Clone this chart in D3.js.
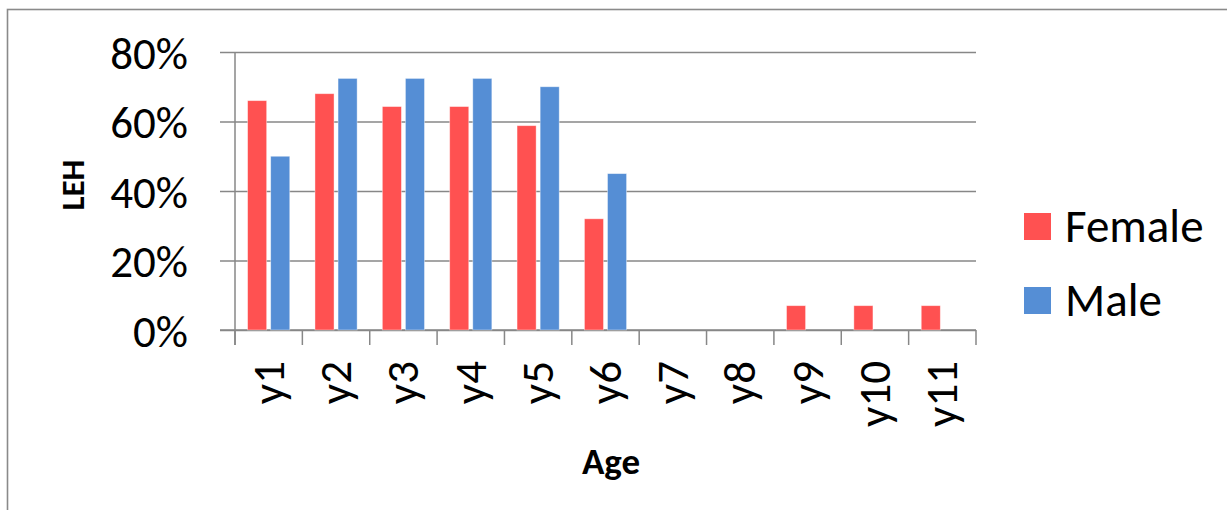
<!DOCTYPE html>
<html>
<head>
<meta charset="utf-8">
<script src="https://cdn.jsdelivr.net/npm/d3@7"></script>
<style>
  html, body { margin: 0; padding: 0; background: #fff; }
  svg { display: block; }
  text { font-family: Carlito, Lato, "Open Sans", sans-serif; fill: #000; }
</style>
</head>
<body>
<svg id="chart" width="1227" height="510"></svg>
<script>
const categories = ["y1","y2","y3","y4","y5","y6","y7","y8","y9","y10","y11"];
const seriesNames = ["Female","Male"];
const femaleValues = [0.66, 0.68, 0.643, 0.643, 0.588, 0.32, 0, 0, 0.07, 0.07, 0.07];
const maleValues   = [0.50, 0.724, 0.724, 0.724, 0.70, 0.45, 0, 0, 0, 0, 0];
const yTicks = [0, 0.2, 0.4, 0.6, 0.8];
const colors = ["#FF5151", "#558ED5"];
const axisTitleX = "Age";
const axisTitleY = "LEH";

const svg = d3.select("#chart");
const gridColor = "#878787";

// outer border
svg.append("rect").attr("x", 7.5).attr("y", 9.5).attr("width", 1300).attr("height", 600)
  .attr("fill", "none").attr("stroke", "#8a8a8a").attr("stroke-width", 1.6);

const plot = { left: 235, right: 976, top: 52, bottom: 330 };

const x = d3.scaleBand().domain(categories).range([plot.left, plot.right]).padding(0);
const step = x.bandwidth();
const xs = d3.scaleBand().domain(seriesNames).range([12.6, step - 12.6]).paddingInner(4/23).paddingOuter(0);
const y = d3.scaleLinear().domain([0, 0.8]).range([plot.bottom, plot.top]);

// gridlines + y tick marks
const gyA = svg.append("g").attr("transform", `translate(${plot.right},0)`)
  .call(d3.axisLeft(y).tickValues(yTicks).tickSize(plot.right - plot.left + 15).tickFormat(""));
gyA.select(".domain").remove();
gyA.selectAll("line").attr("stroke", gridColor).attr("stroke-width", 1.5);

// y labels
const gyL = svg.append("g").attr("transform", `translate(${plot.left - 15},0)`)
  .call(d3.axisLeft(y).tickValues(yTicks).tickSize(0).tickPadding(32).tickFormat(d3.format(".0%")));
gyL.select(".domain").remove();
gyL.selectAll("text").attr("font-size", 45).attr("font-family", "Carlito, Lato, sans-serif").attr("dy", "0.36em").attr("fill", "#000");

// y axis line
svg.append("line").attr("x1", plot.left).attr("x2", plot.left).attr("y1", plot.top).attr("y2", plot.bottom + 15)
  .attr("stroke", gridColor).attr("stroke-width", 1.5);

// x axis line and ticks
svg.append("line").attr("x1", plot.left - 15).attr("x2", plot.right).attr("y1", plot.bottom).attr("y2", plot.bottom)
  .attr("stroke", gridColor).attr("stroke-width", 1.5);
const boundaries = categories.map(c => x(c)).concat([x(categories[categories.length-1]) + step]);
svg.append("g").selectAll("line").data(boundaries).join("line")
  .attr("x1", d => d).attr("x2", d => d).attr("y1", plot.bottom).attr("y2", plot.bottom + 15)
  .attr("stroke", gridColor).attr("stroke-width", 1.5);

// bars
const data = [femaleValues, maleValues];
seriesNames.forEach((s, si) => {
  svg.append("g").selectAll("rect").data(categories.map((c, i) => ({c, v: data[si][i]})).filter(d => d.v > 0))
    .join("rect")
    .attr("x", d => x(d.c) + xs(s))
    .attr("width", xs.bandwidth())
    .attr("y", d => y(d.v))
    .attr("height", d => y(0) - y(d.v))
    .attr("fill", colors[si])
    .attr("stroke", "rgba(255,255,255,0.5)").attr("stroke-width", 0.8);
});

// x labels rotated
svg.append("g").selectAll("text").data(categories).join("text")
  .attr("transform", d => `translate(${x(d) + step/2 + 15},${plot.bottom + 31}) rotate(-90)`)
  .attr("text-anchor", "end")
  .attr("font-size", 45)
  .text(d => d);

// axis titles
svg.append("text").attr("x", 611).attr("y", 474).attr("text-anchor", "middle")
  .attr("font-size", 37).attr("font-weight", "bold").text(axisTitleX);
svg.append("text").attr("transform", `translate(84,185) rotate(-90)`).attr("text-anchor", "middle")
  .attr("font-size", 33).attr("font-weight", "bold").text(axisTitleY);

// legend
const legend = svg.append("g");
seriesNames.forEach((s, i) => {
  const yy = 213 + i * 74;
  legend.append("rect").attr("x", 1024).attr("y", yy).attr("width", 27).attr("height", 27).attr("fill", colors[i]);
  legend.append("text").attr("x", 1065).attr("y", yy + 29).attr("font-size", 47).text(s);
});
</script>
</body>
</html>
